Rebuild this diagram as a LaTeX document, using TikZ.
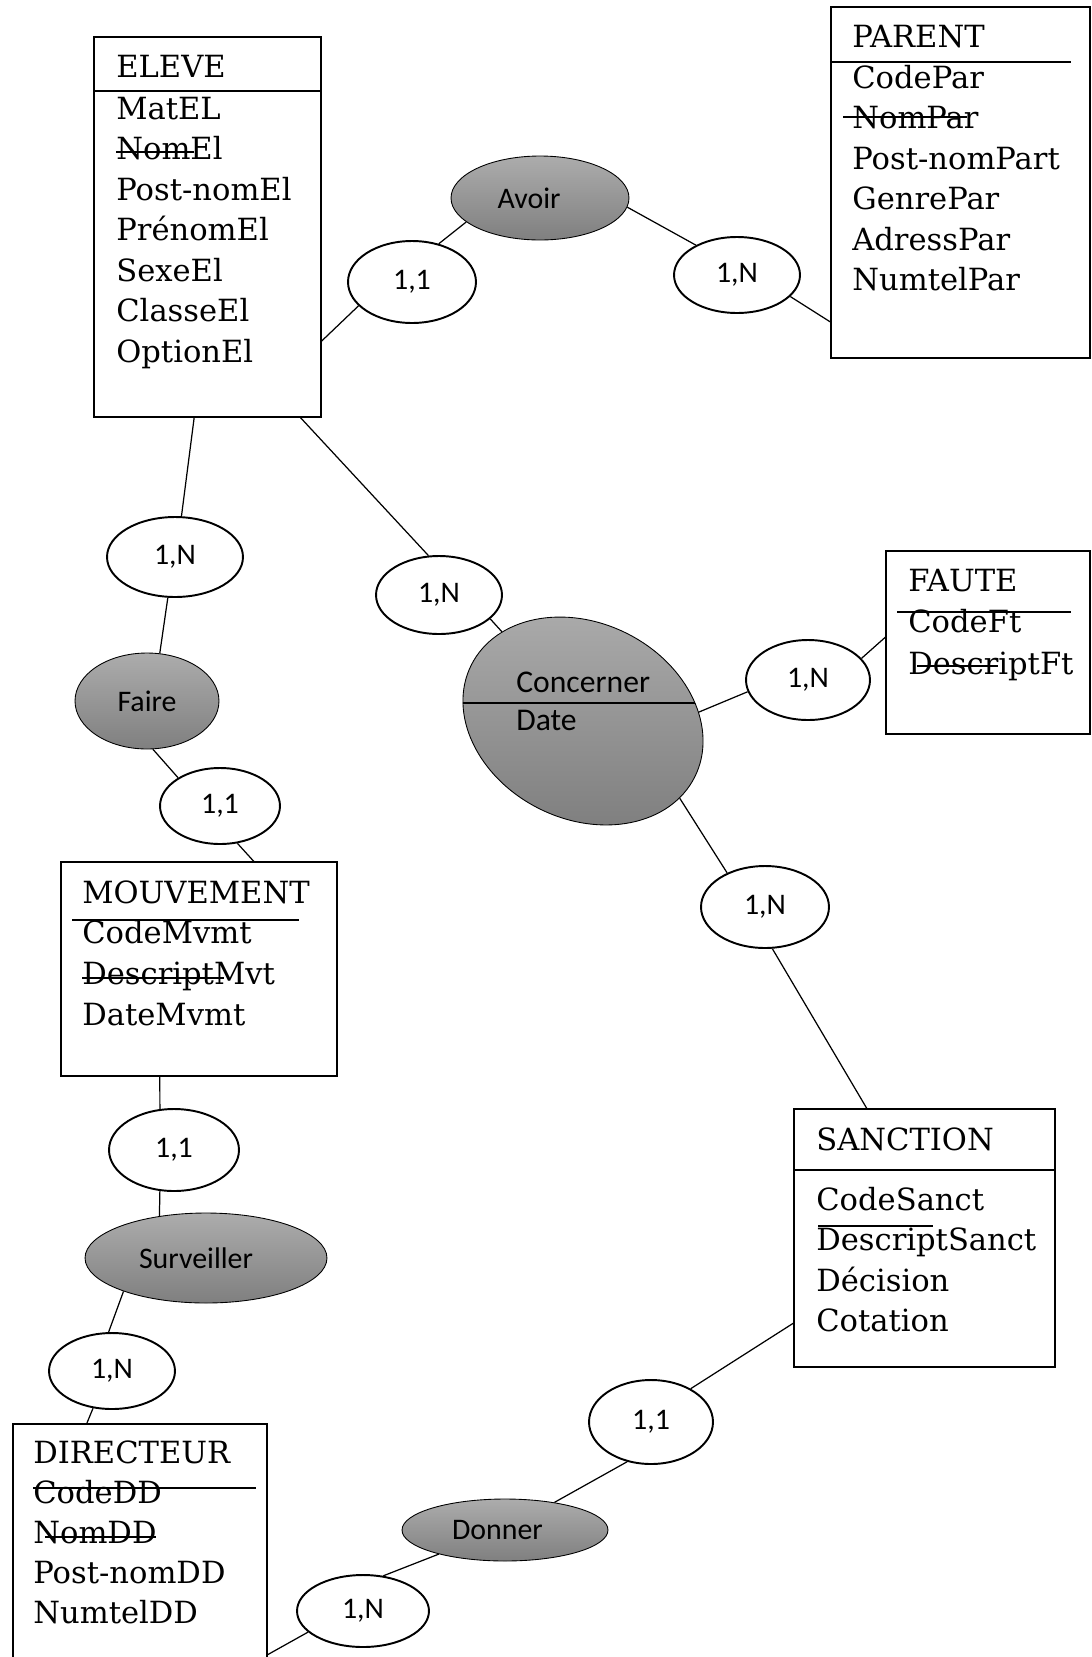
\documentclass[tikz,border=0pt]{standalone}
\usepackage{fontspec}
\setmainfont{DejaVu Serif}
\newfontfamily\lblfont{Carlito}
\usepackage{tikz}
\usetikzlibrary{shapes.geometric}
\usetikzlibrary{positioning}

\begin{document}
\begin{tikzpicture}
		[x=0.02cm,y=-0.02cm,every node/.style={inner sep=0pt},
		entity/.style 2 args={draw,line width=.7pt,minimum width=#1*0.2mm,minimum height=#2*0.2mm},
		attr/.style={anchor=base west,font=\fontsize{17.4}{20}\selectfont},
		card/.style 2 args={ellipse,draw,fill=white,line width=1.1pt,minimum width=#1*0.4mm,minimum height=#2*0.4mm,font=\lblfont\fontsize{17}{20}\selectfont},
		assoc/.style 2 args={ellipse,draw,line width=.5pt,top color=gray!65,bottom color=gray,minimum width=#1*0.4mm,minimum height=#2*0.4mm,font=\lblfont\fontsize{17}{20}\selectfont}]
		\useasboundingbox (0,0) rectangle (1092,1657);

		% entities
		\node[entity={227}{380}] (eleve) at (207.5,227) {};
		\node[entity={259}{351}] (parent) at (960.5,182.5) {};
		\node[entity={204}{183}] (faute) at (988,642.5) {};
		\node[entity={276}{214}] (mouvement) at (199,969) {};
		\node[entity={261}{258}] (sanction) at (924.5,1238) {};
		\node[entity={254}{276}] (directeur) at (140,1562) {};

		\node[attr] (elevet) at (116,77) {ELEVE};
		\foreach \t [count=\i from 0] in {MatEL,NomEl,Post-nomEl,PrénomEl,SexeEl,ClasseEl,OptionEl}
		\node[attr] (elevea\i) at (116,119+40.5*\i) {\t};
		\draw[line width=.7pt] (94,91) -- (321,91);
		\draw[line width=.6pt] (116,152) -- (194,152);

		\node[attr] (parentt) at (852,47) {PARENT};
		\foreach \t [count=\i from 0] in {CodePar,NomPar,Post-nomPart,GenrePar,AdressPar,NumtelPar}
		\node[attr] (parenta\i) at (852,88+40.5*\i) {\t};
		\draw[line width=.7pt] (831,62) -- (1071,62);
		\draw[line width=.6pt] (843,117) -- (967,117);

		\node[attr] (fautet) at (908,591) {FAUTE};
		\foreach \t [count=\i from 0] in {CodeFt,DescriptFt}
		\node[attr] (fautea\i) at (908,632+42*\i) {\t};
		\draw[line width=.7pt] (897,612) -- (1071,612);
		\draw[line width=.6pt] (917,666) -- (998,666);

		\node[attr] (mouvementt) at (82,903) {MOUVEMENT};
		\foreach \t [count=\i from 0] in {CodeMvmt,DescriptMvt,DateMvmt}
		\node[attr] (mouvementa\i) at (82,943+41*\i) {\t};
		\draw[line width=.7pt] (72,920) -- (299,920);
		\draw[line width=.6pt] (82,978) -- (224,978);

		\node[attr] (sanctiont) at (816,1150) {SANCTION};
		\foreach \t [count=\i from 0] in {CodeSanct,DescriptSanct,Décision,Cotation}
		\node[attr] (sanctiona\i) at (816,1210+40.5*\i) {\t};
		\draw[line width=.7pt] (794,1170) -- (1055,1170);
		\draw[line width=.6pt] (818,1226) -- (933,1226);

		\node[attr] (directeurt) at (33,1463) {DIRECTEUR};
		\foreach \t [count=\i from 0] in {CodeDD,NomDD,Post-nomDD,NumtelDD}
		\node[attr] (directeura\i) at (33,1503+40*\i) {\t};
		\draw[line width=.7pt] (33,1488) -- (256,1488);
		\draw[line width=.6pt] (45,1537) -- (156,1537);

		% associations and cardinalities
		\node[assoc={89}{42}] (avoir) at (540,198) {Avoir\hspace*{0.44cm}};
		\node[card={64}{41}] (c11a) at (412,282) {1,1};
		\node[card={63}{38}] (c1na) at (737,275) {1,N};
		\node[card={68}{40}] (c1nb) at (175,557) {1,N};
		\node[assoc={72}{48}] (faire) at (147,701) {Faire};
		\node[card={60}{38}] (c11b) at (220,806) {1,1};
		\node[card={63}{39}] (c1nc) at (439,595) {1,N};
		\node[assoc={125}{98},rotate=-26.6] (concerner) at (583,721) {};
		\node[card={62}{40}] (c1nd) at (808,680) {1,N};
		\node[card={64}{41}] (c1ne) at (765,907) {1,N};
		\node[card={65}{41}] (c11c) at (174,1150) {1,1};
		\node[assoc={121}{45}] (surveiller) at (206,1258) {Surveiller\hspace*{0.4cm}};
		\node[card={63}{38}] (c1nf) at (112,1371) {1,N};
		\node[card={62}{42}] (c11d) at (651,1422) {1,1};
		\node[assoc={103}{31}] (donner) at (505,1530) {Donner\hspace*{0.3cm}};
		\node[card={66}{36}] (c1ng) at (363,1611) {1,N};

		\begin{scope}
		\clip[rotate around={-26.6:(583,721)}] (583,721) ellipse [x radius=125, y radius=98];
		\draw[line width=.6pt] (440,703) -- (720,703);
		\end{scope}
		\node[anchor=base west,font=\lblfont\fontsize{18}{20}\selectfont] (concernert) at (516,692) {Concerner};
		\node[anchor=base west,font=\lblfont\fontsize{18}{20}\selectfont] (concernerd) at (516,730) {Date};

		\foreach \from/\to in
		{eleve.-45/c11a.204, c11a.55/avoir.198, avoir.-6/c1na.144, c1na.-22/parent.-133,
		eleve.-94/c1nb.81, c1nb.-100/faire.75, faire.-83/c11b.146, c11b.-65/mouvement.63,
		eleve.-64/c1nc.105, c1nc.-25/concerner, concerner.31/c1nd.191, c1nd.22/faute.177,
		concerner.-12/c1ne.138, c1ne.-80/sanction.114,
		mouvement.-110/c11c.109, c11c.-109/surveiller.138, surveiller.202/c1nf.95, c1nf.-117/directeur.111,
		sanction.-147/c11d.40, c11d.-121/donner, donner.200/c1ng.60, c1ng.201/directeur.-36}
		\draw[line width=.7pt] (\from) -- (\to);
		\end{tikzpicture}
\end{document}
